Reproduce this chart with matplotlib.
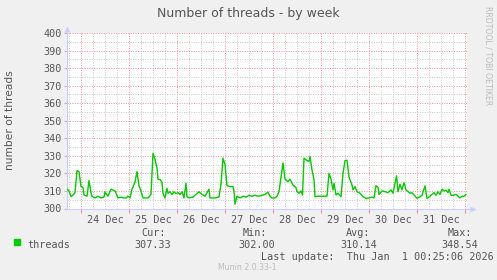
import matplotlib
matplotlib.use("Agg")
import matplotlib.pyplot as plt
from matplotlib.ticker import MultipleLocator
from matplotlib.transforms import blended_transform_factory

# hours since 24 Dec 00:00
hours = [-7, -6, -5, -4, -3, -2, -1, 0, 1, 1.5, 3, 4, 5, 5.5, 7, 8.5, 10, 11.5, 12,
         13.5, 15, 16, 17, 18.5, 20, 21, 22.5, 23.5, 24.5, 25.5, 27, 28, 29, 30, 31,
         32.5, 33.5, 35, 36, 37, 38, 38.5, 39.5, 40.5, 41, 42, 43, 43.5, 44.5, 45.5,
         46.5, 47.5, 48.5, 49.5, 50.5, 51.5, 52.5, 53, 54, 56, 57.5, 59, 60.5, 62, 63,
         64, 64.5, 67, 69, 70, 71, 72, 73, 74.5, 76, 76.5, 77, 78, 79.5, 81, 82.5, 84,
         85.5, 87, 88.5, 90.5, 92, 93.5, 94.5, 95.5, 97, 98, 99, 100, 101, 102, 103.5,
         104.5, 106, 107.5, 108, 109, 110, 110.75, 111.5, 112.5, 114, 114.5, 115.5,
         116.5, 117, 118.5, 120.5, 123, 124, 125, 126, 126.5, 127.5, 128.5, 130, 131,
         132, 133, 134, 135.5, 136, 137, 138, 139.5, 141, 142.5, 144, 145.5, 146.5,
         147.5, 148.5, 149, 150.5, 152, 153.5, 155, 156, 157.75, 158.5, 159.5, 160.5,
         161.5, 162.5, 163.5, 164.5, 165.5, 166.5, 168, 169.5, 170.5, 172, 173, 174,
         175.5, 176.5, 177.5, 178.5, 179.5, 180.5, 181.5, 182.5, 183.5, 184, 185, 186,
         187.5, 188.5, 189.5, 190.5, 191.5, 192.5]
threads = [311, 310, 306.7, 307.7, 309, 321.6, 321, 312.5, 312, 307.7, 307, 316, 309,
           307, 306, 307, 306, 306.5, 309.5, 307, 311, 310.5, 310, 306, 306.5, 306,
           306, 307, 306, 311, 315, 321, 313, 310, 306, 306, 306, 308, 331.5, 328, 323,
           316.7, 316.5, 315, 308.7, 306, 311.5, 308.7, 309.6, 308, 309.5, 308.5, 309,
           308, 309.5, 306, 314.4, 306.7, 306, 306.5, 308, 309.5, 308, 307, 309, 311,
           306, 306, 306.5, 314, 328.7, 325, 313, 312.5, 312.5, 310, 302.5, 307, 306,
           307, 306.5, 307.5, 307, 307.5, 307, 307.5, 308, 309.3, 307, 306, 306, 307,
           309.6, 318, 326, 316.7, 315.3, 316.7, 313.4, 312, 309.6, 308.7, 310, 307.7,
           328.7, 327.7, 326.8, 329.6, 322, 316.3, 306.7, 307, 307, 307, 320, 316.7,
           310.6, 314.4, 307.7, 308.7, 306.7, 320, 327.3, 327.5, 318, 313.4, 310.6,
           312.5, 309.6, 308.7, 306.7, 305.8, 306, 306.5, 306, 313, 312, 308, 310,
           309.6, 309, 310.6, 308.7, 318.6, 309.6, 313.8, 310.6, 314.7, 310.6, 309.6,
           308.7, 309, 307.7, 305.8, 306.7, 307.5, 312.9, 305.8, 306.5, 308, 309, 307.5,
           309.5, 308, 311, 310, 310.5, 309, 311, 307.5, 307.5, 308, 307, 306, 307, 307,
           308]

days = ["24 Dec", "25 Dec", "26 Dec", "27 Dec", "28 Dec", "29 Dec", "30 Dec", "31 Dec"]
stat_names = ["Cur:", "Min:", "Avg:", "Max:"]
stat_values = ["307.33", "302.00", "310.14", "348.54"]

txt = "#555555"
axcol = "#CCCCFF"
mono = "DejaVu Sans Mono"

fig = plt.figure(figsize=(4.97, 2.8), dpi=100, facecolor="#F0F0F0")
ax = fig.add_axes([67 / 497, 71.5 / 280, 400 / 497, 175.5 / 280])
ax.set_facecolor("white")

ax.plot(hours, threads, color="#00CC00", lw=1.0, zorder=3)

ax.set_xlim(-7, 193)
ax.set_ylim(300, 400)

ax.xaxis.set_major_locator(MultipleLocator(24))
ax.xaxis.set_minor_locator(MultipleLocator(6))
ax.yaxis.set_major_locator(MultipleLocator(10))
ax.yaxis.set_minor_locator(MultipleLocator(5))
ax.grid(which="minor", color="#C8C8C8", ls=(0, (1, 1.5)), lw=0.7)
ax.grid(which="major", color="#F09090", ls=(0, (1, 1.5)), lw=0.7)
ax.set_axisbelow(True)

ax.set_xticklabels([])
ax.tick_params(axis="x", which="major", length=3, color="#F09090", width=0.8)
ax.tick_params(axis="x", which="minor", length=0)
ax.tick_params(axis="y", which="major", length=2, color="#BBBBBB", width=0.8,
               labelsize=7.3, labelcolor=txt, pad=2)
ax.tick_params(axis="y", which="minor", length=0)
for lab in ax.get_yticklabels():
    lab.set_family(mono)

for s in ["top", "right"]:
    ax.spines[s].set_visible(False)
for s in ["left", "bottom"]:
    ax.spines[s].set_color(axcol)
    ax.spines[s].set_linewidth(0.8)

# axis arrows
ax.plot([1.0, 1.01], [0, 0], color=axcol, lw=0.8, transform=ax.transAxes,
        clip_on=False)
ax.plot([1.014], [0], marker=">", ms=5, color=axcol, mec="none",
        transform=ax.transAxes, clip_on=False)
ax.plot([0, 0], [1.0, 1.015], color=axcol, lw=0.8, transform=ax.transAxes,
        clip_on=False)
ax.plot([0], [1.024], marker="^", ms=5, color=axcol, mec="none",
        transform=ax.transAxes, clip_on=False)

# day labels at noon
tr = blended_transform_factory(ax.transData, ax.transAxes)
for i, d in enumerate(days):
    ax.text(i * 24 + 12, -0.035, d, transform=tr, ha="center", va="top",
            fontsize=7.3, family=mono, color=txt)

fig.text(248 / 497, 1 - 13 / 280, "Number of threads - by week", ha="center",
         va="center", fontsize=9, color=txt)
fig.text(10 / 497, 1 - 120 / 280, "number of threads", rotation=90, ha="center",
         va="center", fontsize=7.7, color=txt)
fig.text(488 / 497, 1 - 56 / 280, "RRDTOOL / TOBI OETIKER", rotation=270,
         ha="center", va="center", fontsize=5.6, color="#BBBBBB")

# legend
fig.patches.append(plt.Rectangle((14 / 497, 1 - 245 / 280), 6 / 497, 6 / 280,
                                 transform=fig.transFigure, color="#00CC00"))
fig.text(27 / 497, 1 - 245 / 280, "threads", ha="left", va="center",
         fontsize=7.3, family=mono, color=txt)
name_x = [141, 243, 346, 448]
val_x = [134, 238, 340, 441]
for nm, vl, nx, vx in zip(stat_names, stat_values, name_x, val_x):
    fig.text(nx / 497, 1 - 233 / 280, nm, ha="left", va="center",
             fontsize=7.3, family=mono, color=txt)
    fig.text(vx / 497, 1 - 245 / 280, vl, ha="left", va="center",
             fontsize=7.3, family=mono, color=txt)
fig.text(261 / 497, 1 - 257 / 280, "Last update:  Thu Jan  1 00:25:06 2026",
         ha="left", va="center", fontsize=7.3, family=mono, color=txt)
fig.text(218 / 497, 1 - 268 / 280, "Munin 2.0.33-1", ha="left", va="center",
         fontsize=5.6, color="#BBBBBB")

fig.savefig("out.png", dpi=100, facecolor=fig.get_facecolor())
